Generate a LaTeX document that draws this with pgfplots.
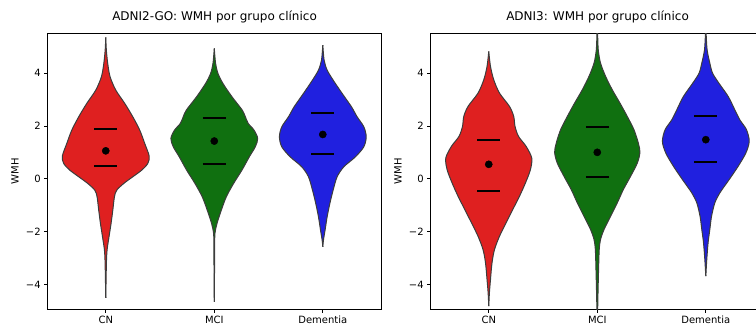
\documentclass[border=0pt]{standalone}
\usepackage{fontspec}
\setmainfont{DejaVu Sans}
\usepackage{pgfplots}
\pgfplotsset{compat=1.18}
\usepackage{pgfplotstable}
\usepgfplotslibrary{fillbetween}

\definecolor{vred}{RGB}{223,32,32}
\definecolor{vgreen}{RGB}{16,112,16}
\definecolor{vblue}{RGB}{32,32,223}
\definecolor{edge}{RGB}{60,60,60}

% violin outlines: y value and half width (in category units)
\pgfplotstableread{
y w
-4.506 0
-3.205 0.006
-2.70 0.012
-2.195 0.030
-1.69 0.049
-1.185 0.065
-0.68 0.080
-0.43 0.101
-0.175 0.166
0.077 0.249
0.33 0.332
0.58 0.387
0.86 0.400
1.34 0.359
1.845 0.313
2.35 0.249
2.855 0.175
3.36 0.092
3.865 0.040
4.37 0.018
4.90 0.005
5.355 0
}\cnA
\pgfplotstableread{
y w
-4.66 0
-2.575 0.004
-2.07 0.006
-1.69 0.025
-1.185 0.065
-0.68 0.111
-0.175 0.178
0.33 0.255
0.834 0.323
1.213 0.378
1.53 0.400
1.845 0.366
2.097 0.313
2.35 0.286
2.60 0.258
3.107 0.163
3.61 0.080
3.99 0.034
4.37 0.012
4.938 0
}\mciA
\pgfplotstableread{
y w
-2.575 0
-2.32 0.006
-1.943 0.021
-1.438 0.040
-0.933 0.065
-0.43 0.095
0.077 0.132
0.456 0.194
0.834 0.301
1.213 0.378
1.592 0.400
1.97 0.378
2.35 0.316
2.728 0.264
3.234 0.178
3.739 0.095
4.117 0.040
4.496 0.012
5.064 0
}\demA
\pgfplotstableread{
y w
-4.819 0
-4.315 0.006
-3.811 0.016
-3.181 0.030
-2.677 0.053
-2.173 0.099
-1.668 0.159
-1.164 0.221
-0.66 0.283
-0.156 0.338
0.348 0.384
0.789 0.396
1.230 0.344
1.608 0.274
1.986 0.242
2.364 0.230
2.742 0.191
3.246 0.099
3.75 0.046
4.254 0.016
4.822 0
}\cnB
\pgfplotstableread{
y w
-5.2 0
-5.07 0.003
-4.441 0.006
-3.433 0.012
-2.677 0.018
-2.299 0.030
-1.92 0.062
-1.417 0.123
-0.912 0.184
-0.408 0.240
0.096 0.307
0.60 0.369
1.003 0.393
1.356 0.378
1.86 0.338
2.364 0.276
2.868 0.209
3.372 0.138
3.876 0.077
4.381 0.030
4.885 0.009
5.49 0.003
5.6 0
}\mciB
\pgfplotstableread{
y w
-3.685 0
-3.055 0.009
-2.425 0.021
-1.92 0.037
-1.417 0.053
-0.912 0.083
-0.534 0.129
-0.03 0.215
0.474 0.298
0.978 0.369
1.419 0.400
1.86 0.375
2.238 0.313
2.616 0.267
3.12 0.206
3.625 0.120
4.003 0.062
4.381 0.037
4.885 0.012
5.49 0.003
5.6 0
}\demB

% one violin: table, centre, fill colour, path name
\newcommand{\violin}[4]{%
  \addplot[name path=#4R, draw=edge, line width=1bp, smooth, tension=0.5]
    table[x expr={#2+\thisrow{w}}, y=y] {#1};
  \addplot[name path=#4L, draw=edge, line width=1bp, smooth, tension=0.5]
    table[x expr={#2-\thisrow{w}}, y=y] {#1};
  \addplot[#3] fill between[of=#4R and #4L];
}
% mean dot and mean +/- sd bars
\newcommand{\stats}[4]{%
  \addplot[black, line width=2bp] coordinates {(#1-0.105,#3) (#1+0.105,#3)};
  \addplot[black, line width=2bp] coordinates {(#1-0.105,#4) (#1+0.105,#4)};
  \addplot[only marks, mark=*, mark size=3.6bp, black] coordinates {(#1,#2)};
}

\pgfplotsset{
  violinaxis/.style={
    scale only axis,
    width=333.7bp, height=276bp,
    anchor=south west,
    xmin=-0.535, xmax=2.54,
    ymin=-4.94, ymax=5.51,
    xtick={0,1,2},
    xticklabels={CN,MCI,Dementia},
    ytick={-4,-2,0,2,4},
    yticklabels={−4,−2,0,2,4},
    tick pos=left,
    tick align=outside,
    major tick length=3.5bp,
    minor tick num=0,
    every tick/.style={black, line width=0.8bp},
    axis line style={black, line width=0.8bp},
    ticklabel style={font=\fontsize{10bp}{12bp}\selectfont, inner sep=0pt},
    xticklabel style={anchor=north, yshift=-3.3bp},
    yticklabel style={anchor=east, xshift=-3.3bp},
    ylabel={WMH},
    ylabel style={at={(rel axis cs:0,0.5)}, anchor=center, rotate=0,
      yshift=32.7bp, font=\fontsize{10bp}{12bp}\selectfont, inner sep=0pt},
    title style={at={(rel axis cs:0.5,1)}, anchor=base, yshift=6.5bp,
      font=\fontsize{12bp}{14bp}\selectfont, inner sep=0pt},
    clip=true,
  }
}

\begin{document}
\begin{tikzpicture}
\begin{axis}[violinaxis, at={(47.7bp,15.7bp)},
  title={ADNI2-GO: WMH por grupo clínico}]
  \violin{\cnA}{0}{vred}{a}
  \violin{\mciA}{1}{vgreen}{b}
  \violin{\demA}{2}{vblue}{c}
  \stats{0}{1.06}{1.87}{0.48}
  \stats{1}{1.43}{2.30}{0.545}
  \stats{2}{1.68}{2.48}{0.935}
\end{axis}
\begin{axis}[violinaxis, at={(430.7bp,15.7bp)},
  title={ADNI3: WMH por grupo clínico}]
  \violin{\cnB}{0}{vred}{d}
  \violin{\mciB}{1}{vgreen}{e}
  \violin{\demB}{2}{vblue}{f}
  \stats{0}{0.549}{1.482}{-0.459}
  \stats{1}{1.003}{1.974}{0.058}
  \stats{2}{1.482}{2.364}{0.625}
\end{axis}
\pgfresetboundingbox
\useasboundingbox (0bp,0bp) rectangle (756bp,325bp);
\end{tikzpicture}
\end{document}
